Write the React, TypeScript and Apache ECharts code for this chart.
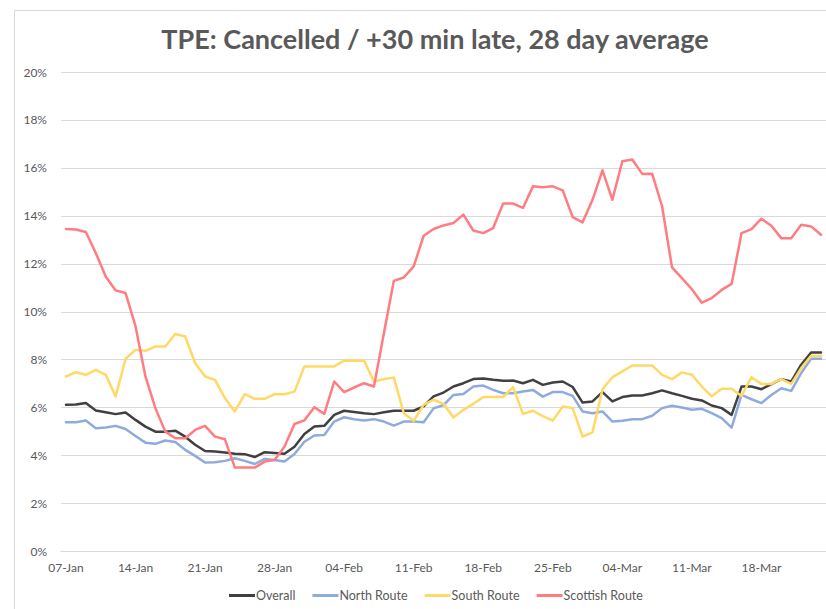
import React, { useEffect, useRef } from "react";
import * as echarts from "echarts";

const categories: string[] = [
  "07-Jan","08-Jan","09-Jan","10-Jan","11-Jan","12-Jan","13-Jan","14-Jan","15-Jan","16-Jan",
  "17-Jan","18-Jan","19-Jan","20-Jan","21-Jan","22-Jan","23-Jan","24-Jan","25-Jan","26-Jan",
  "27-Jan","28-Jan","29-Jan","30-Jan","31-Jan",
  "01-Feb","02-Feb","03-Feb","04-Feb","05-Feb","06-Feb","07-Feb","08-Feb","09-Feb","10-Feb",
  "11-Feb","12-Feb","13-Feb","14-Feb","15-Feb","16-Feb","17-Feb","18-Feb","19-Feb","20-Feb",
  "21-Feb","22-Feb","23-Feb","24-Feb","25-Feb","26-Feb","27-Feb","28-Feb",
  "01-Mar","02-Mar","03-Mar","04-Mar","05-Mar","06-Mar","07-Mar","08-Mar","09-Mar","10-Mar",
  "11-Mar","12-Mar","13-Mar","14-Mar","15-Mar","16-Mar","17-Mar","18-Mar","19-Mar","20-Mar",
  "21-Mar","22-Mar","23-Mar","24-Mar",
];

const overall: number[] = [
  6.12, 6.13, 6.19, 5.88, 5.81, 5.73, 5.80, 5.49, 5.21, 5.00,
  5.00, 5.04, 4.79, 4.45, 4.19, 4.17, 4.13, 4.08, 4.06, 3.94,
  4.14, 4.11, 4.08, 4.37, 4.90, 5.21, 5.24, 5.70, 5.87, 5.82,
  5.77, 5.73, 5.81, 5.87, 5.87, 5.87, 6.05, 6.47, 6.63, 6.88,
  7.02, 7.19, 7.22, 7.16, 7.12, 7.13, 7.02, 7.16, 6.95, 7.05,
  7.09, 6.86, 6.21, 6.26, 6.65, 6.26, 6.44, 6.51, 6.51, 6.60,
  6.72, 6.60, 6.49, 6.37, 6.30, 6.09, 5.98, 5.70, 6.88, 6.88,
  6.77, 6.98, 7.19, 7.09, 7.79, 8.30, 8.30,
];

const northRoute: number[] = [
  5.39, 5.39, 5.46, 5.14, 5.17, 5.24, 5.11, 4.82, 4.54, 4.49,
  4.63, 4.57, 4.24, 3.99, 3.71, 3.72, 3.78, 3.89, 3.78, 3.65,
  3.86, 3.82, 3.75, 4.07, 4.58, 4.84, 4.86, 5.42, 5.60, 5.52,
  5.46, 5.52, 5.42, 5.25, 5.42, 5.42, 5.39, 5.97, 6.11, 6.53,
  6.57, 6.88, 6.92, 6.74, 6.60, 6.60, 6.67, 6.74, 6.46, 6.65,
  6.65, 6.49, 5.84, 5.77, 5.84, 5.42, 5.45, 5.52, 5.52, 5.66,
  5.98, 6.08, 6.01, 5.91, 5.95, 5.77, 5.56, 5.17, 6.53, 6.35,
  6.19, 6.53, 6.81, 6.70, 7.44, 8.04, 8.04,
];

const southRoute: number[] = [
  7.30, 7.48, 7.37, 7.58, 7.37, 6.47, 8.04, 8.41, 8.37, 8.55,
  8.55, 9.07, 8.97, 7.86, 7.30, 7.16, 6.40, 5.84, 6.56, 6.37,
  6.37, 6.56, 6.56, 6.67, 7.72, 7.72, 7.72, 7.72, 7.96, 7.96,
  7.96, 7.09, 7.19, 7.26, 5.77, 5.45, 6.12, 6.33, 6.16, 5.59,
  5.91, 6.16, 6.44, 6.44, 6.44, 6.86, 5.74, 5.87, 5.65, 5.46,
  6.05, 5.98, 4.79, 4.97, 6.77, 7.27, 7.51, 7.76, 7.76, 7.76,
  7.37, 7.19, 7.47, 7.37, 6.88, 6.47, 6.79, 6.79, 6.49, 7.27,
  6.99, 6.99, 7.19, 6.99, 7.65, 8.16, 8.16,
];

const scottishRoute: number[] = [
  13.45, 13.43, 13.33, 12.45, 11.47, 10.89, 10.78, 9.40, 7.30, 5.98,
  5.00, 4.72, 4.72, 5.07, 5.24, 4.79, 4.68, 3.50, 3.50, 3.50,
  3.75, 3.82, 4.38, 5.32, 5.47, 6.02, 5.74, 7.09, 6.65, 6.84,
  7.02, 6.88, 9.10, 11.29, 11.43, 11.89, 13.17, 13.45, 13.60, 13.70,
  14.05, 13.39, 13.28, 13.49, 14.51, 14.51, 14.33, 15.23, 15.19, 15.23,
  15.06, 13.95, 13.73, 14.67, 15.90, 14.67, 16.28, 16.35, 15.75, 15.76,
  14.40, 11.85, 11.40, 10.94, 10.38, 10.57, 10.91, 11.16, 13.28, 13.45,
  13.88, 13.59, 13.07, 13.07, 13.63, 13.56, 13.21,
];

const seriesNames: string[] = ["Overall", "North Route", "South Route", "Scottish Route"];
const seriesColors: string[] = ["#404040", "#8FAADC", "#FFD966", "#FF7C80"];

const FONT = "Lato, 'Open Sans', sans-serif";

export default function App() {
  const ref = useRef<HTMLDivElement>(null);

  useEffect(() => {
    if (!ref.current) return;
    const chart = echarts.init(ref.current, null, { renderer: "svg" });
    const datasets = [overall, northRoute, southRoute, scottishRoute];
    chart.setOption({
      animation: false,
      backgroundColor: "#ffffff",
      textStyle: { fontFamily: FONT },
      title: {
        text: "TPE: Cancelled / +30 min late, 28 day average",
        left: 430,
        textAlign: "center",
        top: 20,
        textStyle: {
          fontFamily: FONT,
          fontSize: 27,
          fontWeight: "bold",
          color: "#595959",
        },
      },
      graphic: [
        {
          type: "rect",
          shape: { x: 14.5, y: 10.5, width: 1000, height: 1000 },
          style: { fill: "none", stroke: "#d9d9d9", lineWidth: 1 },
          silent: true,
          z: -1,
        },
      ],
      legend: {
        left: 224,
        top: 584,
        icon: "rect",
        itemWidth: 26,
        itemHeight: 3,
        itemGap: 17,
        textStyle: { fontFamily: FONT, fontSize: 12.5, color: "#595959", padding: [0, 0, 0, -4] },
        data: seriesNames,
      },
      grid: {
        left: 61,
        top: 72,
        width: 769,
        bottom: 57.5,
        containLabel: false,
      },
      xAxis: {
        type: "category",
        data: categories,
        boundaryGap: true,
        axisLine: { show: true, lineStyle: { color: "#d9d9d9", width: 1 } },
        axisTick: { show: false },
        axisLabel: {
          interval: 6,
          color: "#595959",
          fontSize: 12,
          fontFamily: FONT,
          margin: 10,
        },
        splitLine: { show: false },
      },
      yAxis: {
        type: "value",
        min: 0,
        max: 20,
        interval: 2,
        axisLine: { show: false },
        axisTick: { show: false },
        axisLabel: {
          formatter: "{value}%",
          color: "#595959",
          fontSize: 12,
          fontFamily: FONT,
          margin: 14,
        },
        splitLine: { lineStyle: { color: "#d9d9d9", width: 1 } },
      },
      series: seriesNames.map((name, k) => ({
        name,
        type: "line",
        data: datasets[k],
        symbol: "none",
        smooth: false,
        color: seriesColors[k],
        lineStyle: { width: 2.5, color: seriesColors[k], cap: "round", join: "round" },
        z: 2 + k,
      })),
    });
    return () => chart.dispose();
  }, []);

  return (
    <div
      ref={ref}
      style={{ position: "fixed", left: 0, top: 0, width: 826, height: 609 }}
    />
  );
}
